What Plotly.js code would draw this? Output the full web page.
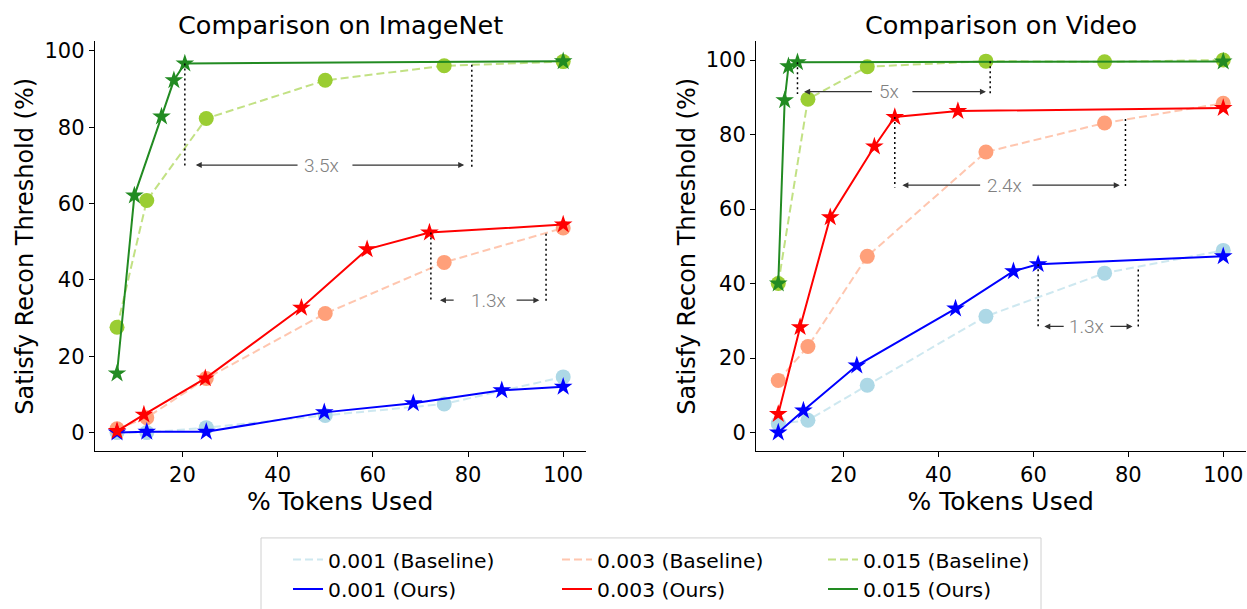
<!DOCTYPE html>
<html><head><meta charset="utf-8">
<script src="https://cdn.plot.ly/plotly-3.0.1.min.js"></script>
<style>html,body{margin:0;padding:0;background:#fff}</style>
</head><body><div id="chart" style="width:1247px;height:609px"></div>
<script>
// ---------------- data: ImageNet ----------------
const imgBaseX   = [6.25, 12.5, 25, 50, 75, 100];
const imgBase001 = [0, 0, 1.3, 4.5, 7.5, 14.6];
const imgBase003 = [1.0, 3.9, 14.2, 31.2, 44.6, 53.6];
const imgBase015 = [27.6, 60.8, 82.3, 92.3, 96.1, 97.2];
const imgOurs001X = [6.25, 12.5, 25, 49.8, 68.5, 87.1, 100];
const imgOurs001  = [0, 0.2, 0.2, 5.3, 7.7, 11.1, 12.0];
const imgOurs003X = [6.25, 11.9, 24.8, 45.0, 58.8, 71.9, 100];
const imgOurs003  = [0.4, 4.7, 14.2, 32.7, 48.0, 52.4, 54.5];
const imgOurs015X = [6.25, 9.9, 15.6, 18.2, 20.5, 100];
const imgOurs015  = [15.5, 62.1, 82.8, 92.3, 96.7, 97.3];
// ---------------- data: Video ----------------
const vidBaseX   = [6.25, 12.5, 25, 50, 75, 100];
const vidBase001 = [2.4, 3.3, 12.7, 31.2, 42.8, 48.9];
const vidBase003 = [14.0, 23.1, 47.3, 75.3, 83.1, 88.4];
const vidBase015 = [40.0, 89.5, 98.2, 99.7, 99.5, 100];
const vidOurs001X = [6.25, 11.55, 22.8, 43.6, 55.8, 61.0, 100];
const vidOurs001  = [0, 5.9, 18.0, 33.3, 43.3, 45.2, 47.3];
const vidOurs003X = [6.25, 10.85, 17.2, 26.5, 30.8, 44.1, 100];
const vidOurs003  = [5.0, 28.3, 57.8, 76.8, 84.7, 86.3, 87.1];
const vidOurs015X = [6.25, 7.6, 8.4, 10.3, 100];
const vidOurs015  = [40.0, 89.2, 98.3, 99.4, 99.6];
// ---------------- labels ----------------
const seriesNames = ['0.001 (Baseline)', '0.003 (Baseline)', '0.015 (Baseline)',
                     '0.001 (Ours)', '0.003 (Ours)', '0.015 (Ours)'];
const xTicks = [20, 40, 60, 80, 100];
const yTicks = [0, 20, 40, 60, 80, 100];
const panelTitles = ['Comparison on ImageNet', 'Comparison on Video'];
const xTitle = '% Tokens Used';
const yTitle = 'Satisfy Recon Threshold (%)';
// speed-up brackets
const spanLabels = ['3.5x', '1.3x', '5x', '2.4x', '1.3x'];
const spanAxis   = [1, 1, 2, 2, 2];
const spanXL     = [20.5, 72.2, 10.3, 30.8, 61.0];
const spanXR     = [80.8, 96.4, 50.9, 79.4, 82.1];
const spanYL     = [96.7, 52.4, 99.4, 84.7, 45.2];
const spanYR     = [96.4, 52.1, 99.7, 84.2, 43.8];
const spanYArrow = [70.1, 34.7, 91.5, 66.4, 28.5];
const spanLeftArrow  = [[22.8, 44.5], [74.1, 77.3], [11.7, 26.3], [32.4, 49.1], [62.3, 66.7]];
const spanRightArrow = [[55.4, 79.2], [89.9, 95.0], [34.2, 50.0], [59.5, 78.2], [75.9, 80.9]];
const spanTextX  = [49.3, 84.3, 29.6, 54.0, 71.2];

// ---------------- styles ----------------
const baseMarker = ['#add8e6', '#ffa07a', '#9acd32'];
const baseLine   = ['rgba(173,216,230,0.6)', 'rgba(255,160,122,0.6)', 'rgba(154,205,50,0.6)'];
const oursColor  = ['#0000ff', '#ff0000', '#228b22'];
const W = 1247, H = 609;
const FONT = 'DejaVu Sans, sans-serif';

function baseTrace(x, y, i, xa, ya) {
  return {x: x, y: y, xaxis: xa, yaxis: ya, type: 'scatter', mode: 'lines+markers',
    line: {color: baseLine[i], width: 2, dash: '8px,4px'},
    marker: {symbol: 'circle', size: 15, color: baseMarker[i]},
    showlegend: false, hoverinfo: 'x+y'};
}
function oursTrace(x, y, i, xa, ya) {
  return {x: x, y: y, xaxis: xa, yaxis: ya, type: 'scatter', mode: 'lines+markers',
    line: {color: oursColor[i], width: 2},
    marker: {symbol: 'star', size: 14, color: oursColor[i], line: {width: 0}},
    showlegend: false, hoverinfo: 'x+y'};
}
const traces = [
  baseTrace(imgBaseX, imgBase001, 0, 'x', 'y'),
  baseTrace(imgBaseX, imgBase003, 1, 'x', 'y'),
  baseTrace(imgBaseX, imgBase015, 2, 'x', 'y'),
  baseTrace(vidBaseX, vidBase001, 0, 'x2', 'y2'),
  baseTrace(vidBaseX, vidBase003, 1, 'x2', 'y2'),
  baseTrace(vidBaseX, vidBase015, 2, 'x2', 'y2'),
  oursTrace(imgOurs001X, imgOurs001, 0, 'x', 'y'),
  oursTrace(imgOurs003X, imgOurs003, 1, 'x', 'y'),
  oursTrace(imgOurs015X, imgOurs015, 2, 'x', 'y'),
  oursTrace(vidOurs001X, vidOurs001, 0, 'x2', 'y2'),
  oursTrace(vidOurs003X, vidOurs003, 1, 'x2', 'y2'),
  oursTrace(vidOurs015X, vidOurs015, 2, 'x2', 'y2')
];
// legend-only entries (three legends = three columns)
const legendIds = ['legend', 'legend2', 'legend3'];
for (let i = 0; i < 3; i++) {
  traces.push({x: [null], y: [null], xaxis: 'x', yaxis: 'y', type: 'scatter', mode: 'lines',
    name: seriesNames[i], legend: legendIds[i], legendrank: 1,
    line: {color: baseLine[i], width: 2, dash: '8px,4px'}, hoverinfo: 'skip'});
  traces.push({x: [null], y: [null], xaxis: 'x', yaxis: 'y', type: 'scatter', mode: 'lines',
    name: seriesNames[i + 3], legend: legendIds[i], legendrank: 2,
    line: {color: oursColor[i], width: 2}, hoverinfo: 'skip'});
}

function xAxis(domain, anchor) {
  return {domain: domain, anchor: anchor, range: [1.56, 104.69], tickvals: xTicks,
    showline: true, linecolor: '#000', linewidth: 1, mirror: false,
    ticks: 'outside', ticklen: 5, tickwidth: 1, tickcolor: '#000',
    showgrid: false, zeroline: false,
    tickfont: {family: FONT, size: 21, color: '#000'},
    title: {text: xTitle, font: {family: FONT, size: 25, color: '#000'}, standoff: 5}};
}
function yAxis(domain, anchor, range) {
  return {domain: domain, anchor: anchor, range: range, tickvals: yTicks,
    showline: true, linecolor: '#000', linewidth: 1, mirror: false,
    ticks: 'outside', ticklen: 5, tickwidth: 1, tickcolor: '#000',
    showgrid: false, zeroline: false,
    tickfont: {family: FONT, size: 21, color: '#000'},
    title: {text: yTitle, font: {family: FONT, size: 24, color: '#000'}, standoff: 3}};
}
const yDom = [1 - 458 / H, 1 - 42 / H];

const shapes = [];
const annotations = [];
for (let k = 0; k < spanLabels.length; k++) {
  const xr = spanAxis[k] === 1 ? 'x' : 'x2';
  const yr = spanAxis[k] === 1 ? 'y' : 'y2';
  const bottom = spanYArrow[k] - 0.6;
  const dotted = {color: '#000', width: 1.5, dash: '2px,3px'};
  shapes.push({type: 'line', xref: xr, yref: yr, x0: spanXL[k], x1: spanXL[k], y0: spanYL[k], y1: bottom, line: dotted});
  shapes.push({type: 'line', xref: xr, yref: yr, x0: spanXR[k], x1: spanXR[k], y0: spanYR[k], y1: bottom, line: dotted});
  const arrowCommon = {xref: xr, yref: yr, axref: xr, ayref: yr, text: '', showarrow: true,
    arrowhead: 2, arrowsize: 1, arrowwidth: 1.2, arrowcolor: '#333', standoff: 0, startstandoff: 0};
  annotations.push(Object.assign({}, arrowCommon, {x: spanLeftArrow[k][0], y: spanYArrow[k], ax: spanLeftArrow[k][1], ay: spanYArrow[k]}));
  annotations.push(Object.assign({}, arrowCommon, {x: spanRightArrow[k][1], y: spanYArrow[k], ax: spanRightArrow[k][0], ay: spanYArrow[k]}));
  annotations.push({xref: xr, yref: yr, x: spanTextX[k], y: spanYArrow[k], text: spanLabels[k], showarrow: false,
    xanchor: 'center', yanchor: 'middle', font: {family: 'Roboto, sans-serif', size: 19, color: '#808080', weight: 300}});
}
// panel titles
annotations.push({xref: 'paper', yref: 'paper', x: 340 / W, y: 1 - 25 / H, text: panelTitles[0], showarrow: false,
  xanchor: 'center', yanchor: 'middle', font: {family: FONT, size: 25.5, color: '#000'}});
annotations.push({xref: 'paper', yref: 'paper', x: 1001 / W, y: 1 - 25 / H, text: panelTitles[1], showarrow: false,
  xanchor: 'center', yanchor: 'middle', font: {family: FONT, size: 25.5, color: '#000'}});
// legend frame
shapes.push({type: 'rect', xref: 'paper', yref: 'paper', x0: 261 / W, x1: 1041 / W, y0: 1 - 546 / H, y1: -0.05,
  line: {color: '#d0d0d0', width: 1}, fillcolor: 'rgba(0,0,0,0)', layer: 'below'});

function legendAt(leftPx) {
  return {x: leftPx / W, y: 1 - 548 / H, xanchor: 'left', yanchor: 'top', orientation: 'v',
    font: {family: FONT, size: 20.3, color: '#000'}, bgcolor: 'rgba(0,0,0,0)', borderwidth: 0,
    tracegroupgap: 0, itemwidth: 30, traceorder: 'normal'};
}

const layout = {
  width: W, height: H, margin: {l: 0, r: 0, t: 0, b: 0}, paper_bgcolor: '#fff', plot_bgcolor: '#fff',
  xaxis: xAxis([94.7 / W, 585.5 / W], 'y'),
  yaxis: yAxis(yDom, 'x', [-4.88, 102.5]),
  xaxis2: xAxis([756 / W, 1245.5 / W], 'y2'),
  yaxis2: yAxis(yDom, 'x2', [-5, 105]),
  legend: legendAt(288), legend2: legendAt(557), legend3: legendAt(823),
  shapes: shapes, annotations: annotations, showlegend: true
};
Plotly.newPlot('chart', traces, layout, {displayModeBar: false, staticPlot: true});
</script></body></html>
